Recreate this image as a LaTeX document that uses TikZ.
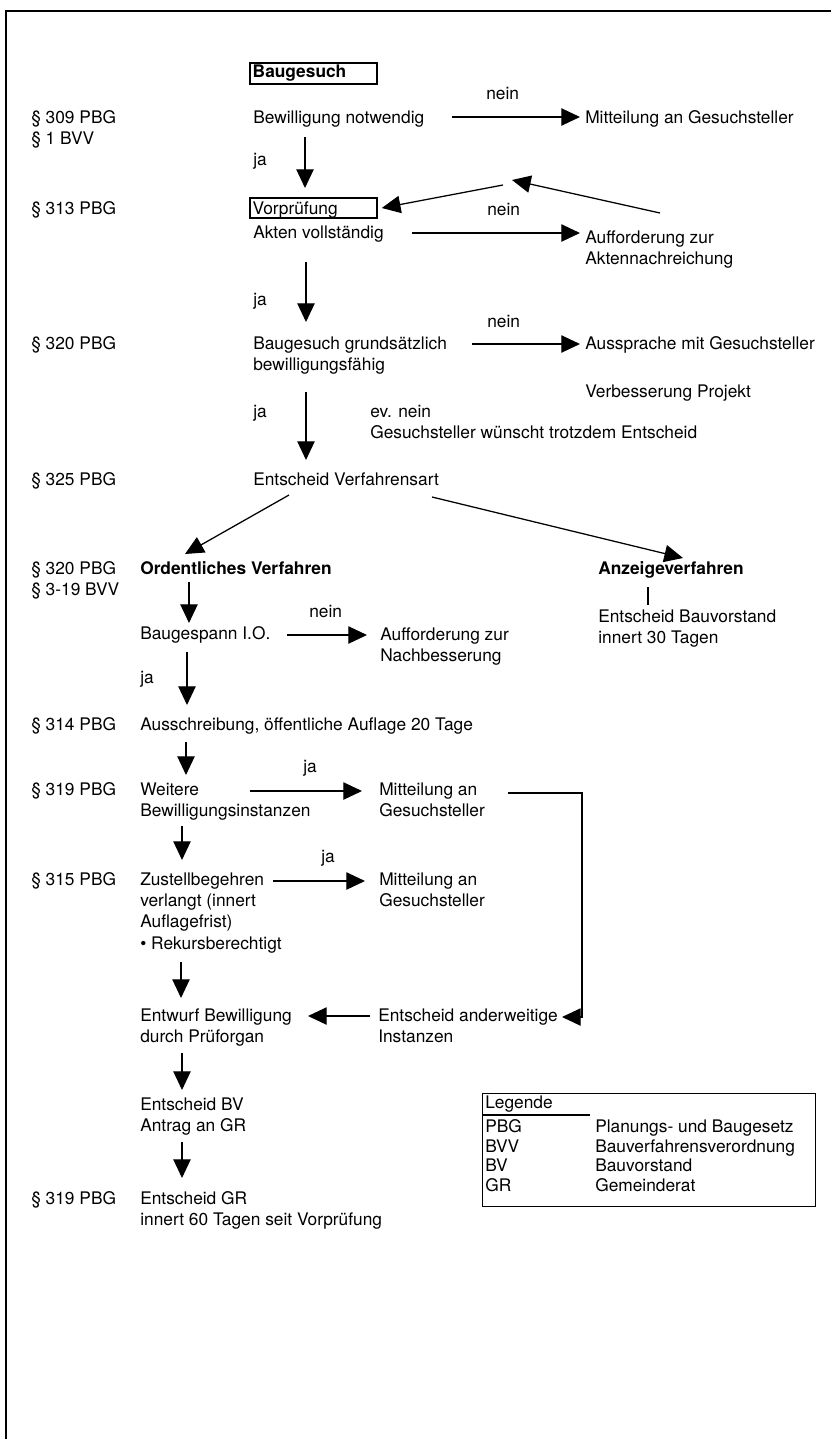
\documentclass[tikz,border=0pt]{standalone}
\usepackage{fontspec}
\setmainfont{TeX Gyre Heros}
\usetikzlibrary{arrows.meta}
\newcommand{\mlines}[1]{\begin{tabular}[t]{@{}l@{}}#1\end{tabular}}
\begin{document}
\begin{tikzpicture}[x=0.75pt,y=-0.75pt,
  txt/.style={anchor=base west, inner sep=0pt, font=\fontsize{13pt}{16.1pt}\selectfont},
  arr/.style={line width=0.95pt, -{Triangle[length=14pt,width=13pt]}},
  ln/.style={line width=0.95pt},
  boxst/.style={draw, line width=1.6pt, anchor=north west, inner xsep=2pt, inner ysep=0pt,
    font=\fontsize{13pt}{16.1pt}\selectfont}
]
\useasboundingbox (0,0) rectangle (831,1439);
% frame
\draw[line width=1.1pt] (831,11) -- (6,11) -- (6,1439);

% boxes
\node[boxst, text height=11pt, text depth=5pt] (box1) at (249,62) {\makebox[91pt][l]{\textbf{Baugesuch}}};
\node[boxst, text height=12pt, text depth=3pt] (box2) at (249,197) {\makebox[91pt][l]{Vorprüfung}};

% left column references
\node[txt] (l309) at (31,123) {\mlines{§ 309 PBG\\§ 1 BVV}};
\node[txt] (l313) at (31,214) {§ 313 PBG};
\node[txt] (l320) at (31,349) {§ 320 PBG};
\node[txt] (l325) at (31,485) {§ 325 PBG};
\node[txt] (l320b) at (31,574) {\mlines{§ 320 PBG\\§ 3-19 BVV}};
\node[txt] (l314) at (31,730) {§ 314 PBG};
\node[txt] (l319) at (31,795) {§ 319 PBG};
\node[txt] (l315) at (31,885) {§ 315 PBG};
\node[txt] (l319b) at (31,1204) {§ 319 PBG};

% upper flow
\node[txt] (bew) at (253,123) {Bewilligung notwendig};
\node[txt] (nein1) at (486,99) {nein};
\node[txt] (mit1) at (585,123) {Mitteilung an Gesuchsteller};
\node[txt] (ja1) at (253,165) {ja};
\node[txt] (akt) at (253,238) {Akten vollständig};
\node[txt] (nein2) at (487,215) {nein};
\node[txt] (auf1) at (585,243) {\mlines{Aufforderung zur\\Aktennachreichung}};
\node[txt] (ja2) at (253,305) {ja};
\node[txt] (bau) at (253,349) {\mlines{Baugesuch grundsätzlich\\bewilligungsfähig}};
\node[txt] (nein3) at (487,327) {nein};
\node[txt] (aus) at (585,349) {Aussprache mit Gesuchsteller};
\node[txt] (ver) at (585,397) {Verbesserung Projekt};
\node[txt] (ja3) at (253,417) {ja};
\node[txt] (evn) at (370,417) {\mlines{ev. nein\\Gesuchsteller wünscht trotzdem Entscheid}};
\node[txt] (ent) at (253,485) {Entscheid Verfahrensart};

% lower flow
\node[txt] (ord) at (140,574) {\textbf{Ordentliches Verfahren}};
\node[txt] (anz) at (598,574) {\textbf{Anzeigeverfahren}};
\node[txt] (entb) at (598,622) {\mlines{Entscheid Bauvorstand\\innert 30 Tagen}};
\node[txt] (bgs) at (140,639) {Baugespann I.O.};
\node[txt] (nein4) at (309,617) {nein};
\node[txt] (aufn) at (380,640) {\mlines{Aufforderung zur\\Nachbesserung}};
\node[txt] (ja4) at (140,683) {ja};
\node[txt] (aus2) at (140,730) {Ausschreibung, öffentliche Auflage 20 Tage};
\node[txt] (ja5) at (303,772) {ja};
\node[txt] (wei) at (140,795) {\mlines{Weitere\\Bewilligungsinstanzen}};
\node[txt] (mit2) at (379,795) {\mlines{Mitteilung an\\Gesuchsteller}};
\node[txt] (ja6) at (321,862) {ja};
\node[txt] (zus) at (140,885) {\mlines{Zustellbegehren\\verlangt (innert\\Auflagefrist)\\• Rekursberechtigt}};
\node[txt] (mit3) at (379,885) {\mlines{Mitteilung an\\Gesuchsteller}};
\node[txt] (entw) at (140,1021) {\mlines{Entwurf Bewilligung\\durch Prüforgan}};
\node[txt] (ea) at (378,1021) {\mlines{Entscheid anderweitige\\Instanzen}};
\node[txt] (entbv) at (140,1110) {\mlines{Entscheid BV\\Antrag an GR}};
\node[txt] (entgr) at (140,1204) {\mlines{Entscheid GR\\innert 60 Tagen seit Vorprüfung}};

% connectors upper
\draw[arr] ([shift={(199,-6)}]bew.base west) -- ([shift={(-5,-6)}]mit1.base west);
\draw[arr] ([shift={(52,14)}]bew.base west) -- ([shift={(56,-9)}]box2.north west);
\draw[arr] ([shift={(159,-5)}]akt.base west) -- ([shift={(-5,-10)}]auf1.base west);
\coordinate (fbA) at (512,180);
\coordinate (fbB) at (503,185);
\draw[arr] ([shift={(75,-30)}]auf1.base west) -- (fbA);
\draw[arr] (fbB) -- ([shift={(4,11)}]box2.north east);
\draw[arr] ([shift={(53,24)}]akt.base west) -- ([shift={(53,-27)}]bau.base west);
\draw[arr] ([shift={(219,-5)}]bau.base west) -- ([shift={(-5,-5)}]aus.base west);
\draw[arr] ([shift={(53,43)}]bau.base west) -- ([shift={(53,-25)}]ent.base west);
\draw[arr] ([shift={(36,10)}]ent.base west) -- ([shift={(45,-20)}]ord.base west);
\draw[arr] ([shift={(179,12)}]ent.base west) -- ([shift={(85,-16)}]anz.base west);
\draw[ln] ([shift={(50,13)}]anz.base west) -- ([shift={(50,-17)}]entb.base west);

% connectors lower
\draw[arr] ([shift={(49,8)}]ord.base west) -- ([shift={(49,-16)}]bgs.base west);
\draw[arr] ([shift={(147,-4)}]bgs.base west) -- ([shift={(-13,-5)}]aufn.base west);
\draw[arr] ([shift={(47,13)}]bgs.base west) -- ([shift={(47,-25)}]aus2.base west);
\draw[arr] ([shift={(46,12)}]aus2.base west) -- ([shift={(46,-20)}]wei.base west);
\draw[arr] ([shift={(110,-4)}]wei.base west) -- ([shift={(-17,-4)}]mit2.base west);
\draw[arr] ([shift={(42,31)}]wei.base west) -- ([shift={(42,-25)}]zus.base west);
\draw[arr] ([shift={(133,-4)}]zus.base west) -- ([shift={(-14,-4)}]mit3.base west);
\draw[arr] ([shift={(41,77)}]zus.base west) -- ([shift={(41,-23)}]entw.base west);
\draw[arr] ([shift={(-8,-5)}]ea.base west) -- ([shift={(168,-5)}]entw.base west);
\draw[arr] ([shift={(129,-2)}]mit2.base west) -| ([shift={(204,-4)}]ea.base west) -- ([shift={(184,-4)}]ea.base west);
\draw[arr] ([shift={(42,32)}]entw.base west) -- ([shift={(42,-20)}]entbv.base west);
\draw[arr] ([shift={(42,32)}]entbv.base west) -- ([shift={(42,-26)}]entgr.base west);

% legend
\node[draw, line width=0.95pt, anchor=north west, minimum width=333*0.75pt, minimum height=113*0.75pt, inner sep=0pt] (leg) at (482,1093) {};
\node[txt] (legt) at (485,1108) {Legende};
\draw[ln] (leg.north west |- 0,1115) -- (590,1115);
\node[txt] (k1) at (485,1132) {PBG};
\node[txt] (v1) at (595,1132) {Planungs- und Baugesetz};
\node[txt] (k2) at (485,1152) {BVV};
\node[txt] (v2) at (595,1152) {Bauverfahrensverordnung};
\node[txt] (k3) at (485,1171) {BV};
\node[txt] (v3) at (595,1171) {Bauvorstand};
\node[txt] (k4) at (485,1191) {GR};
\node[txt] (v4) at (595,1191) {Gemeinderat};
\end{tikzpicture}
\end{document}
